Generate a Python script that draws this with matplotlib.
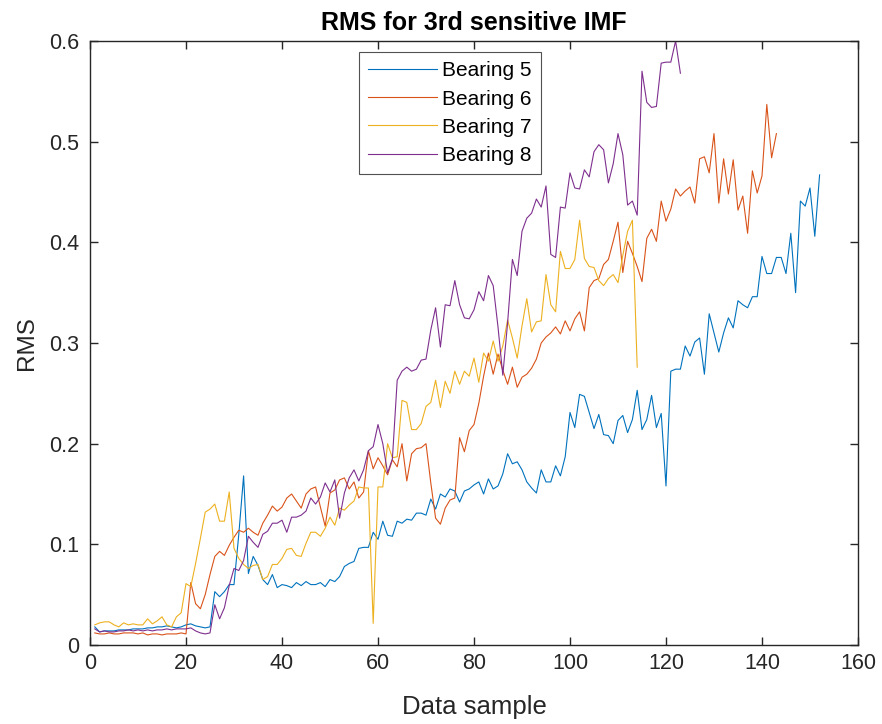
import matplotlib
matplotlib.use("Agg")
import matplotlib.pyplot as plt
import numpy as np

plt.rcParams['font.family'] = ['Liberation Sans', 'DejaVu Sans']

bearing5 = [0.018, 0.013, 0.014, 0.014, 0.014, 0.015, 0.015, 0.015, 0.016, 0.016,
            0.016, 0.017, 0.017, 0.018, 0.018, 0.019, 0.018, 0.017, 0.018, 0.020,
            0.021, 0.019, 0.018, 0.017, 0.018,
            0.053, 0.048, 0.053, 0.060, 0.060, 0.110, 0.168, 0.071, 0.088, 0.079,
            0.065, 0.060, 0.070, 0.057, 0.060, 0.059, 0.057, 0.062, 0.059, 0.063,
            0.060, 0.060, 0.062, 0.058, 0.065, 0.063, 0.068, 0.078, 0.081, 0.083,
            0.096, 0.097, 0.097, 0.112, 0.105, 0.123, 0.109, 0.108, 0.123, 0.121,
            0.125, 0.124, 0.131, 0.131, 0.129, 0.145, 0.135, 0.150, 0.147, 0.155,
            0.153, 0.142, 0.153, 0.155, 0.159, 0.162, 0.150, 0.165, 0.155, 0.158,
            0.170, 0.190, 0.180, 0.182, 0.174, 0.162, 0.156, 0.151, 0.174, 0.162,
            0.162, 0.178, 0.168, 0.187, 0.231, 0.216, 0.249, 0.247, 0.231, 0.215,
            0.229, 0.209, 0.208, 0.200, 0.223, 0.228, 0.211, 0.224, 0.253, 0.214,
            0.224, 0.248, 0.216, 0.230, 0.158, 0.272, 0.274, 0.274, 0.297, 0.287,
            0.301, 0.305, 0.269, 0.329, 0.310, 0.291, 0.310, 0.325, 0.315, 0.342,
            0.338, 0.335, 0.346, 0.346, 0.386, 0.369, 0.369, 0.385, 0.385, 0.369,
            0.409, 0.350, 0.441, 0.436, 0.454, 0.406, 0.467]

bearing6 = [0.012, 0.011, 0.011, 0.012, 0.011, 0.011, 0.012, 0.012, 0.012, 0.011,
            0.012, 0.010, 0.011, 0.011, 0.010, 0.011, 0.011, 0.011, 0.012, 0.011,
            0.062, 0.041, 0.036, 0.050, 0.070, 0.088, 0.093, 0.089, 0.099, 0.107,
            0.114, 0.112, 0.116, 0.112, 0.109,
            0.121, 0.129, 0.138, 0.133, 0.137, 0.146, 0.150, 0.143, 0.136, 0.150,
            0.155, 0.157, 0.137, 0.118, 0.151, 0.154, 0.164, 0.166, 0.155, 0.162,
            0.146, 0.152, 0.193, 0.175, 0.186, 0.178, 0.169, 0.184, 0.177, 0.200,
            0.163, 0.190, 0.195, 0.196, 0.200,
            0.161, 0.126, 0.120, 0.136, 0.144, 0.146, 0.206, 0.192, 0.213, 0.219,
            0.240, 0.267, 0.290, 0.269, 0.289, 0.273, 0.259, 0.276, 0.256, 0.266,
            0.269, 0.275, 0.284, 0.300, 0.306, 0.310, 0.316, 0.309,
            0.322, 0.312, 0.324, 0.331, 0.312, 0.355, 0.362, 0.364, 0.378, 0.383,
            0.401, 0.420, 0.370, 0.401, 0.389, 0.376, 0.361, 0.404, 0.413, 0.401,
            0.441, 0.421, 0.433, 0.453, 0.446, 0.451, 0.455, 0.439, 0.483,
            0.485, 0.469, 0.508, 0.439, 0.483, 0.448, 0.482, 0.432, 0.446, 0.409,
            0.471, 0.449, 0.466, 0.537, 0.484, 0.508]

bearing7 = [0.020, 0.022, 0.023, 0.023, 0.020, 0.018, 0.022, 0.020, 0.021, 0.020,
            0.020, 0.026, 0.021, 0.024, 0.028, 0.020, 0.018, 0.028, 0.032,
            0.061, 0.058, 0.081, 0.106, 0.132, 0.135, 0.140, 0.123, 0.123, 0.152,
            0.096, 0.086, 0.080, 0.076, 0.079,
            0.080, 0.065, 0.068, 0.080, 0.080, 0.086, 0.095, 0.096, 0.089, 0.088,
            0.101, 0.112, 0.112, 0.108, 0.116, 0.127, 0.119, 0.136, 0.134, 0.139,
            0.143, 0.157, 0.156, 0.156, 0.0215, 0.157, 0.157, 0.200, 0.186, 0.187,
            0.243, 0.241, 0.214, 0.214, 0.220,
            0.237, 0.241, 0.263, 0.236, 0.262, 0.250, 0.272, 0.259, 0.272, 0.267,
            0.285, 0.261, 0.290, 0.282, 0.302, 0.282, 0.297, 0.323, 0.305, 0.285,
            0.317, 0.344, 0.311, 0.321, 0.322,
            0.368, 0.338, 0.331, 0.391, 0.374, 0.374, 0.383, 0.422, 0.384, 0.376,
            0.375, 0.362, 0.357, 0.364, 0.368, 0.360, 0.387, 0.411, 0.422, 0.276]

bearing8 = [0.016, 0.013, 0.014, 0.013, 0.013, 0.014, 0.014, 0.015, 0.014, 0.015,
            0.014, 0.015, 0.014, 0.015, 0.015, 0.016, 0.015, 0.016, 0.016, 0.016,
            0.017, 0.014, 0.012, 0.011, 0.012,
            0.040, 0.026, 0.037, 0.059, 0.076, 0.074, 0.084, 0.108, 0.102, 0.097,
            0.110, 0.113, 0.121, 0.121, 0.124, 0.112, 0.127, 0.127, 0.129, 0.133,
            0.146, 0.140, 0.147, 0.161, 0.152, 0.164, 0.126, 0.151, 0.166, 0.174,
            0.163, 0.174, 0.193, 0.197, 0.219, 0.200, 0.171, 0.185,
            0.263, 0.272, 0.276, 0.272, 0.274, 0.283, 0.284, 0.313, 0.335, 0.296,
            0.338, 0.337, 0.362, 0.338, 0.325, 0.324, 0.333, 0.351, 0.342, 0.367,
            0.357, 0.316, 0.268, 0.320,
            0.383, 0.367, 0.411, 0.424, 0.429, 0.443, 0.435, 0.456, 0.388, 0.385,
            0.435, 0.434, 0.469, 0.454, 0.453, 0.472, 0.465, 0.490, 0.497, 0.492,
            0.459, 0.478, 0.508, 0.487, 0.437, 0.441, 0.427, 0.570, 0.539, 0.534,
            0.535, 0.578, 0.579, 0.579, 0.600, 0.568]

series = [("Bearing 5", bearing5, "#0072BD"),
          ("Bearing 6", bearing6, "#D95319"),
          ("Bearing 7", bearing7, "#EDB120"),
          ("Bearing 8", bearing8, "#7E2F8E")]

xticks = [0, 20, 40, 60, 80, 100, 120, 140, 160]
yticks = [0, 0.1, 0.2, 0.3, 0.4, 0.5, 0.6]
yticklabels = ["0", "0.1", "0.2", "0.3", "0.4", "0.5", "0.6"]

fig = plt.figure(figsize=(8.82, 7.24), dpi=100)
ax = fig.add_axes([90/882, 1 - 645/724, 768/882, 604/724])

for name, vals, col in series:
    x = np.arange(1, len(vals) + 1)
    ax.plot(x, vals, color=col, lw=0.8, label=name)

axcol = "#262626"
ax.set_xlim(0, 160)
ax.set_ylim(0, 0.6)
ax.set_xticks(xticks)
ax.set_yticks(yticks)
ax.set_yticklabels(yticklabels)
ax.tick_params(direction="in", length=5.5, width=1.0, top=True, right=True,
               labelsize=15.5, colors=axcol, labelcolor=axcol)
ax.tick_params(axis="y", pad=8)
ax.tick_params(axis="x", pad=6)
for s in ax.spines.values():
    s.set_linewidth(1.0)
    s.set_color(axcol)

ax.set_title("RMS for 3rd sensitive IMF", fontsize=18, fontweight="bold",
             color="black", pad=8)
ax.set_xlabel("Data sample", fontsize=18.5, color=axcol, labelpad=15)
ax.set_ylabel("RMS", fontsize=17.5, color=axcol, labelpad=8)

leg = ax.legend(loc="upper left", bbox_to_anchor=((359-90)/768, (645-52)/604),
                fontsize=15, frameon=True, fancybox=False, handlelength=3.3,
                handletextpad=0.25, labelspacing=0.44, borderpad=0.45,
                borderaxespad=0.0)
leg.get_frame().set_edgecolor("#262626")
leg.get_frame().set_linewidth(0.8)

fig.savefig("out.png", dpi=100)
